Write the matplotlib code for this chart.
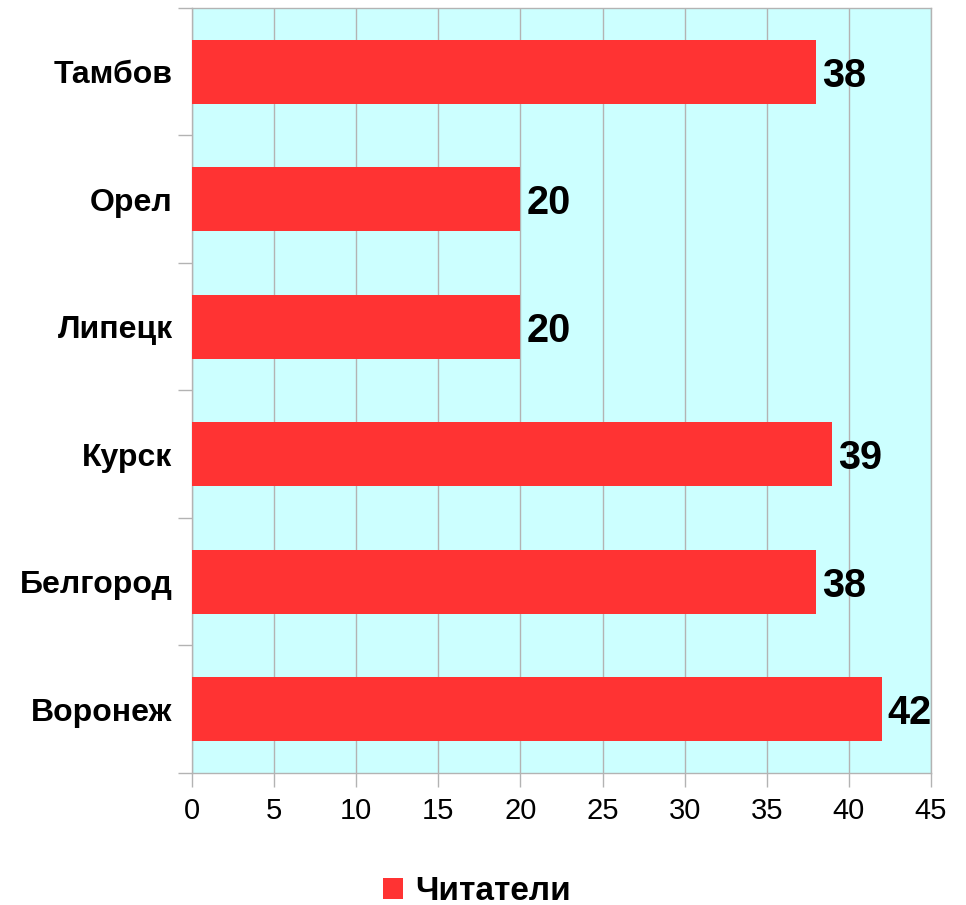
import matplotlib
matplotlib.use("Agg")
import matplotlib.pyplot as plt
from matplotlib.patches import Patch

# data (top to bottom as shown)
cities = ["Тамбов", "Орел", "Липецк", "Курск", "Белгород", "Воронеж"]
readers = [38, 20, 20, 39, 38, 42]
series_name = "Читатели"

BAR = "#ff3333"
BG = "#ccffff"
GRID = "#b3b3b3"

plt.rcParams["font.family"] = ["Liberation Sans", "DejaVu Sans"]

fig = plt.figure(figsize=(9.66, 9.05), dpi=100)
ax = fig.add_axes([0.1988, 0.1459, 0.7650, 0.8453])
ax.set_facecolor(BG)

n = len(cities)
ypos = list(range(n))
ax.barh(ypos, readers, height=0.5, color=BAR, zorder=3)
ax.set_ylim(n - 0.5, -0.5)
ax.set_xlim(0, 45)
ax.set_xticks(range(0, 46, 5))

# category labels in the middle, ticks at the boundaries
ax.set_yticks([i - 0.5 for i in range(n + 1)])
ax.set_yticklabels([])
ax.set_yticks(ypos, minor=True)
ax.set_yticklabels(cities, minor=True, fontsize=23, fontweight="bold")
ax.tick_params(axis="y", which="minor", length=0, pad=14)
ax.tick_params(axis="y", which="major", length=10, color=GRID, width=1)
ax.tick_params(axis="x", length=10, color=GRID, width=1, labelsize=21, pad=7)

ax.grid(axis="x", color=GRID, linewidth=1, zorder=1)
for s in ax.spines.values():
    s.set_color(GRID)
    s.set_linewidth(1)

for y, v in zip(ypos, readers):
    ax.text(v + 0.35, y, str(v), va="center_baseline", ha="left",
            fontsize=28.5, fontweight="bold", zorder=4)

fig.legend(handles=[Patch(facecolor=BAR, label=series_name)], loc="center",
           bbox_to_anchor=(0.494, 0.015), frameon=False,
           prop={"size": 24, "weight": "bold"}, handlelength=0.6,
           handleheight=0.6, handletextpad=0.35)

fig.savefig("out.png", dpi=100, facecolor="white")
